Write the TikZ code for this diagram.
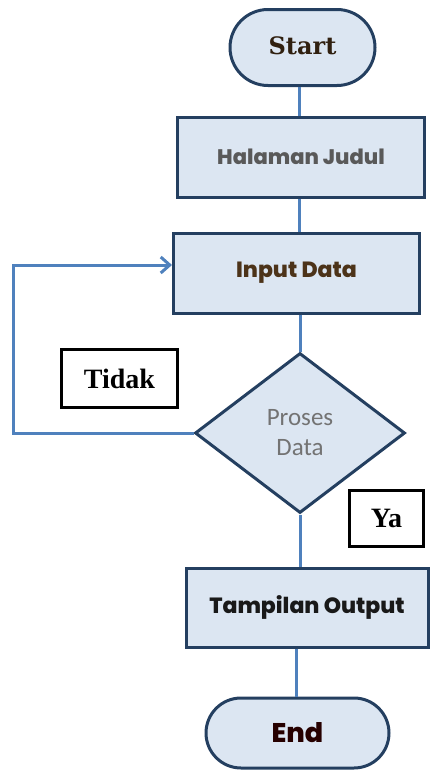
\documentclass[tikz,border=0pt]{standalone}
\usepackage{fontspec}
\setmainfont{Liberation Serif}
\newfontfamily\geofont{Poppins}[BoldFont=* ExtraBold]
\newfontfamily\calfont{Carlito}
\newfontfamily\dvserif{DejaVu Serif}
\usetikzlibrary{shapes.geometric,arrows.meta,calc}
\definecolor{boxfill}{HTML}{DCE6F2}
\definecolor{boxline}{HTML}{243F60}
\definecolor{conn}{HTML}{4F81BD}
\newcommand{\lowr}[2]{\raisebox{-#1pt}{#2}}
\tikzset{
  flowbox/.style={draw=boxline, line width=3pt, fill=boxfill, rectangle, inner sep=0pt, anchor=center},
  termbox/.style={flowbox},
  decbox/.style={draw=boxline, line width=3pt, fill=boxfill, diamond, inner sep=0pt, minimum width=210pt, minimum height=160pt, align=center},
  lblbox/.style={draw=black, line width=3.5pt, fill=white, rectangle, inner sep=0pt, font=\bfseries\fontsize{28}{30}\selectfont},
  geo/.style={font=\geofont\bfseries\fontsize{#1}{26}\selectfont},
  link/.style={draw=conn, line width=3pt},
}
\begin{document}
\begin{tikzpicture}[x=1pt,y=-1pt]
\useasboundingbox (0,0) rectangle (430,771);
\node[termbox, minimum width=145pt, minimum height=76pt, rounded corners=38pt, text=black!75!brown, font=\dvserif\bfseries\fontsize{24}{26}\selectfont] (start) at (302.5,47.5) {\lowr{-3}{Start}};
\node[flowbox, minimum width=247pt, minimum height=80pt, text=black!65, geo=21] (judul) at (301,157) {\lowr{6}{Halaman Judul}};
\node[flowbox, minimum width=246pt, minimum height=80pt, text=black!60!brown, geo=22] (input) at (296.5,273) {\lowr{4}{Input Data}};
\node[decbox, text=black!55, font=\calfont\fontsize{25}{30}\selectfont] (dia) at (300,433) {Proses\\Data};
\node[flowbox, minimum width=242pt, minimum height=79pt, text=black!90, geo=22] (out) at (307,607.5) {\lowr{4}{Tampilan Output}};
\node[termbox, minimum width=183pt, minimum height=70pt, rounded corners=35pt, text=black!85!red, geo=27] (end) at (297.5,733) {\lowr{2}{End}};
\node[lblbox, minimum width=116pt, minimum height=58pt] (tidak) at (119.5,378.5) {Tidak};
\node[lblbox, minimum width=74pt, minimum height=56pt] (ya) at (386.5,518.5) {Ya};
\coordinate (lp) at (13,265);
\path[link] (start.south -| 299,0) -- (judul.north -| 299,0);
\path[link] (judul.south -| 299,0) -- (input.north -| 299,0);
\path[link] (input.south -| dia.north) -- (dia.north);
\path[link] (dia.south) -- (out.north -| dia.south);
\path[link] (out.south -| 296,0) -- (end.north -| 296,0);
\path[link, -{Straight Barb[length=9pt,width=16pt,line width=3pt]}] (dia.west) -| (lp) -- (input.west |- lp);
\end{tikzpicture}
\end{document}
